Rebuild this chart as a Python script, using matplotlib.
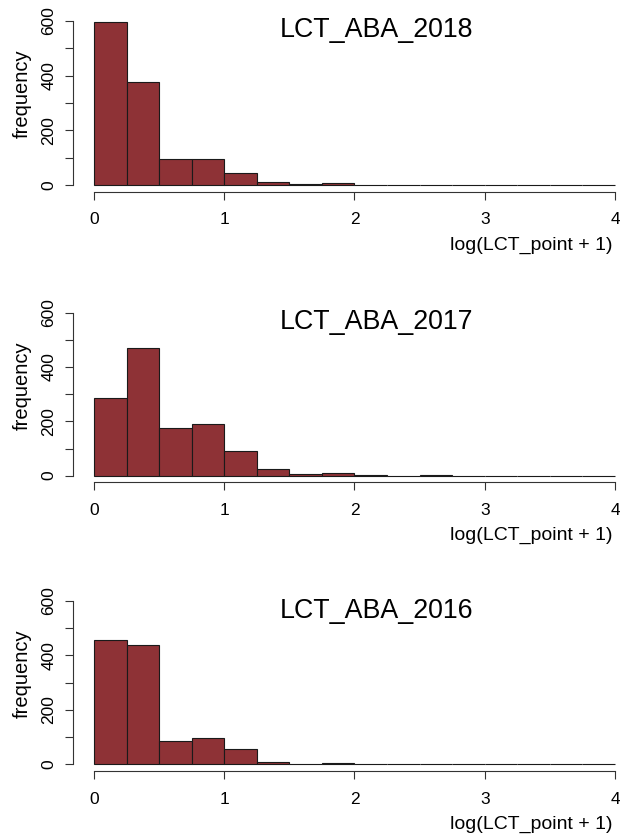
import matplotlib
matplotlib.use("Agg")
import matplotlib.pyplot as plt
import numpy as np

plt.rcParams['font.family'] = ['Liberation Sans', 'DejaVu Sans']

# Data: histogram counts per 0.25-wide bin from 0 to 4
bin_edges = [0, 0.25, 0.5, 0.75, 1.0, 1.25, 1.5, 1.75, 2.0, 2.25, 2.5, 2.75, 3.0, 3.25, 3.5, 3.75, 4.0]
titles = ["LCT_ABA_2018", "LCT_ABA_2017", "LCT_ABA_2016"]
counts_2018 = [596, 375, 94, 94, 43, 10, 3, 9, 1, 0, 0, 0, 0, 0, 0, 0]
counts_2017 = [285, 469, 177, 191, 91, 24, 8, 11, 2, 0, 3, 0, 0, 0, 0, 0]
counts_2016 = [455, 438, 86, 98, 57, 10, 0, 4, 0, 0, 0, 0, 0, 0, 0, 0]
all_counts = [counts_2018, counts_2017, counts_2016]
x_ticks = [0, 1, 2, 3, 4]
y_ticks = [0, 100, 200, 300, 400, 500, 600]
y_ticklabels = ["0", "", "200", "", "400", "", "600"]
xlabel = "log(LCT_point + 1)"
ylabel = "frequency"

W, H = 620, 834
fig = plt.figure(figsize=(W / 100, H / 100), dpi=100)

bar_color = "#8e3236"
xmin, xmax = -0.16, 4.16
ymin, ymax = -24, 624

# pixel positions of the plot regions
x_left_px, x_right_px = 73.2, 635.8
panel_tops = [14.4, 306.2, 594.5]
panel_bottoms = [191.6, 482.2, 770.8]

for i in range(3):
    top, bot = panel_tops[i], panel_bottoms[i]
    ax = fig.add_axes([x_left_px / W, 1 - bot / H,
                       (x_right_px - x_left_px) / W, (bot - top) / H])
    edges = np.array(bin_edges)
    ax.bar(edges[:-1], all_counts[i], width=np.diff(edges), align='edge',
           color=bar_color, edgecolor='#1a1a1a', linewidth=0.8)
    ax.set_xlim(xmin, xmax)
    ax.set_ylim(ymin, ymax)
    for s in ['top', 'right']:
        ax.spines[s].set_visible(False)
    ax.spines['left'].set_bounds(0, 600)
    ax.spines['bottom'].set_bounds(0, 4)
    for s in ['left', 'bottom']:
        ax.spines[s].set_linewidth(0.8)
        ax.spines[s].set_color('#333333')
    ax.set_xticks(x_ticks)
    ax.set_xticklabels([str(t) for t in x_ticks])
    ax.set_yticks(y_ticks)
    ax.set_yticklabels(y_ticklabels, rotation=90, va='center')
    ax.tick_params(axis='both', direction='out', length=6, width=0.8,
                   color='#333333', labelsize=12.5)
    ax.tick_params(axis='x', pad=9)
    ax.tick_params(axis='y', pad=6)
    ax.patch.set_alpha(0)

    y600 = top + (ymax - 600) / (ymax - ymin) * (bot - top)
    fig.text(377 / W, 1 - (y600 + 9.5) / H, titles[i], ha='center', va='center',
             fontsize=19.3)
    fig.text(613 / W, 1 - (bot + 53.5) / H, xlabel, ha='right', va='center',
             fontsize=14)
    fig.text(22 / W, 1 - (top + 79) / H, ylabel, ha='center', va='center',
             rotation=90, fontsize=14.5)

fig.savefig("out.png", dpi=100)
